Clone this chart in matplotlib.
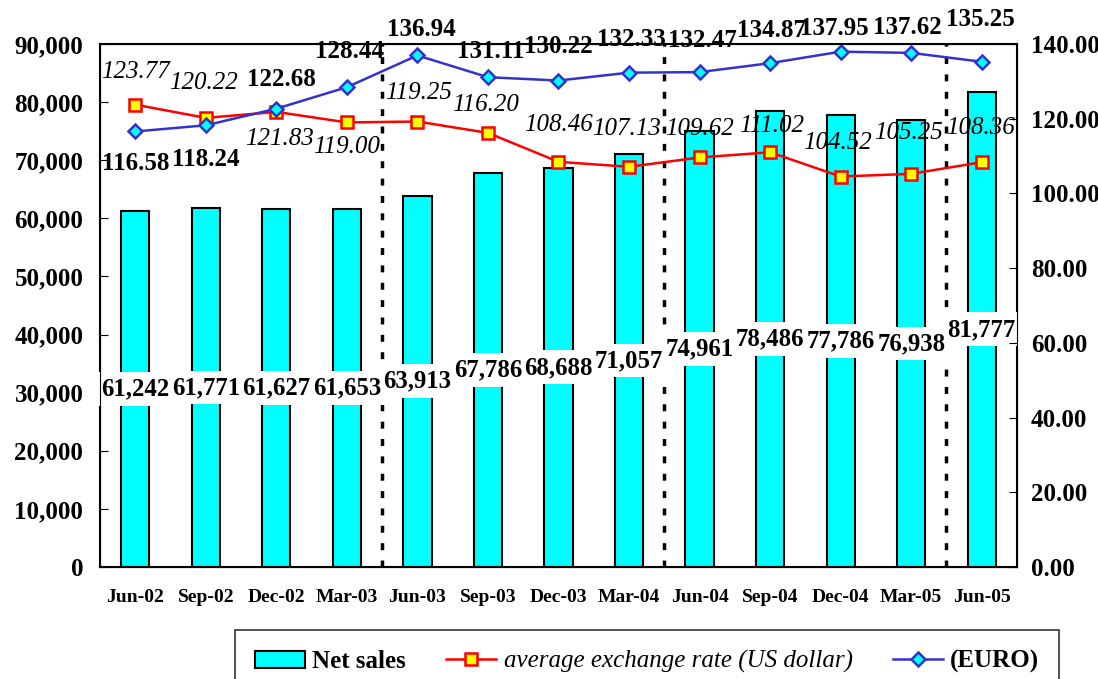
import matplotlib
matplotlib.use("Agg")
from matplotlib import pyplot as plt
from matplotlib.ticker import FuncFormatter, MultipleLocator

plt.rcParams['font.family'] = ['Liberation Serif', 'DejaVu Serif']
plt.rcParams['font.weight'] = 'bold'

quarters = ['Jun-02', 'Sep-02', 'Dec-02', 'Mar-03', 'Jun-03', 'Sep-03', 'Dec-03',
            'Mar-04', 'Jun-04', 'Sep-04', 'Dec-04', 'Mar-05', 'Jun-05']
net_sales = [61242, 61771, 61627, 61653, 63913, 67786, 68688,
             71057, 74961, 78486, 77786, 76938, 81777]
usd_rate = [123.77, 120.22, 121.83, 119.00, 119.25, 116.20, 108.46,
            107.13, 109.62, 111.02, 104.52, 105.25, 108.36]
euro_rate = [116.58, 118.24, 122.68, 128.44, 136.94, 131.11, 130.22,
             132.33, 132.47, 134.87, 137.95, 137.62, 135.25]

# label offsets (pixels) for the line labels
usd_off = [(0, 33), (-2, 35), (3, -27), (0, -25), (1, 29), (-2, 28), (0, 37),
           (-3, 38), (0, 28), (1, 26), (-3, 34), (-3, 41), (-1, 34)]
euro_off = [(0, -32), (0, -34), (5, 29), (3, 36), (4, 26), (3, 26), (0, 34),
            (2, 33), (3, 32), (1, 33), (-6, 23), (-4, 25), (-1, 42)]

fig = plt.figure(figsize=(10.98, 6.79), dpi=100)
ax = fig.add_axes([100 / 1098, 1 - 567 / 679, 917 / 1098, 523 / 679])
x = list(range(len(quarters)))

bars = ax.bar(x, net_sales, width=0.4, color='#00FFFF', edgecolor='black',
              linewidth=1.5, label='Net sales', zorder=2)
sales_labels = [f'{v:,}' for v in net_sales]
# white patches behind the labels first, then the text on top
ax.bar_label(bars, labels=sales_labels, label_type='center', fontsize=17.8,
             color='none', bbox=dict(facecolor='white', edgecolor='none', pad=4),
             zorder=3)
ax.bar_label(bars, labels=sales_labels, label_type='center', fontsize=17.8,
             fontweight='bold', zorder=4)

ax.set_xlim(-0.5, len(quarters) - 0.5)
ax.set_ylim(0, 90000)
ax.yaxis.set_major_locator(MultipleLocator(10000))
ax.yaxis.set_major_formatter(FuncFormatter(lambda v, p: f'{int(v):,}'))
ax.set_xticks(x)
ax.set_xticklabels(quarters, fontsize=14, fontweight='bold')
ax.tick_params(axis='x', length=0, pad=16)
ax.tick_params(axis='y', direction='in', length=6, labelsize=18, pad=12)
for sp in ax.spines.values():
    sp.set_linewidth(1.5)

for xv in (3.5, 7.5, 11.5):
    ax.axvline(xv, color='black', linestyle=(0, (2, 3)), linewidth=2.5, zorder=1)

ax2 = ax.twinx()
ax2.set_ylim(0, 140)
ax2.yaxis.set_major_locator(MultipleLocator(20))
ax2.yaxis.set_major_formatter(FuncFormatter(lambda v, p: f'{v:.2f}'))
ax2.tick_params(axis='y', direction='in', length=6, labelsize=18, pad=10)

l1, = ax2.plot(x, usd_rate, color='red', linewidth=1.8, marker='s', markersize=9,
               markerfacecolor='yellow', markeredgecolor='red', markeredgewidth=1.8,
               label='average exchange rate (US dollar)')
l2, = ax2.plot(x, euro_rate, color='#3333CC', linewidth=1.8, marker='D', markersize=7,
               markerfacecolor='#00FFFF', markeredgecolor='#3333CC', markeredgewidth=1.8,
               label='(EURO)')

for i, v in enumerate(usd_rate):
    dx, dy = usd_off[i]
    ax2.annotate(f'{v:.2f}', (i, v), xytext=(dx * 0.72, dy * 0.72),
                 textcoords='offset points', ha='center', va='center',
                 fontsize=18, fontstyle='italic', fontweight='normal')
for i, v in enumerate(euro_rate):
    dx, dy = euro_off[i]
    ax2.annotate(f'{v:.2f}', (i, v), xytext=(dx * 0.72, dy * 0.72),
                 textcoords='offset points', ha='center', va='center',
                 fontsize=18, fontweight='bold')

leg = fig.legend([bars, l1, l2], ['Net sales', 'average exchange rate (US dollar)', '(EURO)'],
                 loc='upper left', bbox_to_anchor=(235 / 1098, 1 - 630 / 679),
                 ncol=3, fontsize=18, frameon=True, fancybox=False,
                 handlelength=2.0, handleheight=0.7, handletextpad=0.3,
                 columnspacing=1.6, borderaxespad=0, borderpad=0.8)
leg.get_frame().set_edgecolor('black')
leg.get_frame().set_linewidth(1.2)
texts = leg.get_texts()
texts[1].set_fontstyle('italic')
texts[1].set_fontweight('normal')

fig.savefig('out.png', dpi=100)
plt.close()
